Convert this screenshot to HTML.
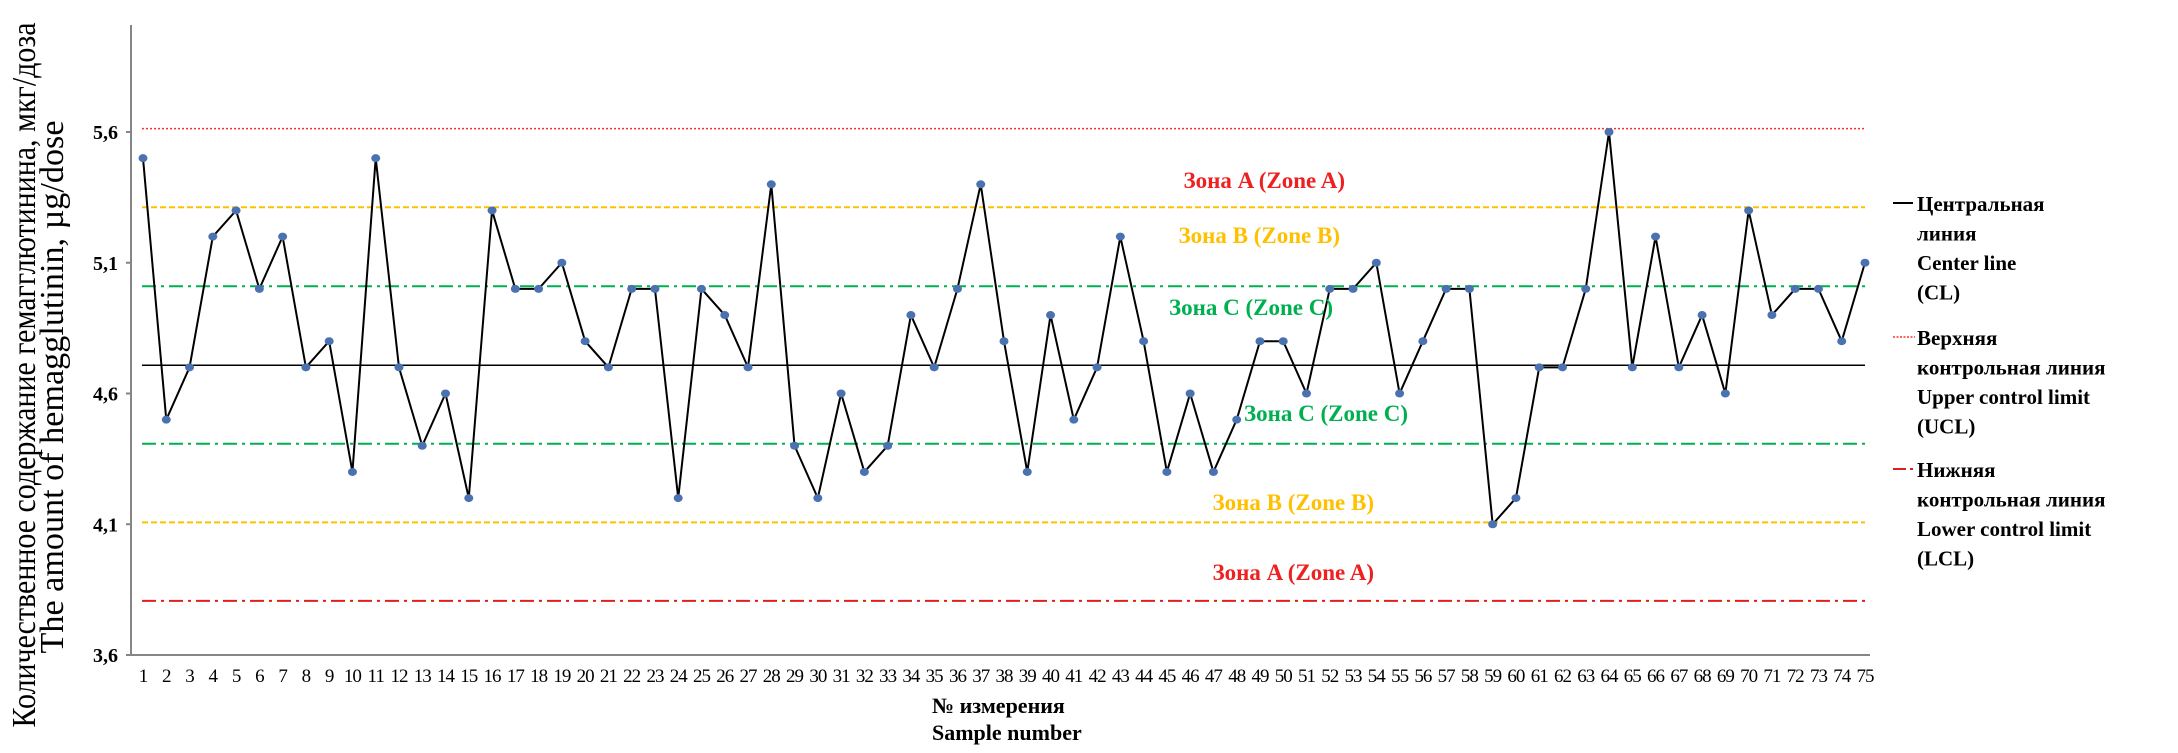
<!DOCTYPE html>
<html><head><meta charset="utf-8"><style>
html,body{margin:0;padding:0;background:#fff;}
svg{display:block;font-family:"Liberation Serif","DejaVu Serif",serif;}
</style></head><body>
<svg width="2178" height="753" viewBox="0 0 2178 753" xmlns="http://www.w3.org/2000/svg">
<g id="g"></g>
<script>
const NS="http://www.w3.org/2000/svg";const g=document.getElementById('g');
function el(t,a,txt){const e=document.createElementNS(NS,t);for(const k in a)e.setAttribute(k,a[k]);if(txt!=null)e.textContent=txt;g.appendChild(e);return e;}
const Y=v=>655-(v-3.6)*261.5, X=i=>143+(i-1)*23.27;
el('line',{x1:131,y1:25,x2:131,y2:656,stroke:'#868686','stroke-width':2});
el('line',{x1:131,y1:655,x2:1870,y2:655,stroke:'#868686','stroke-width':2});
[3.6,4.1,4.6,5.1,5.6].forEach(v=>{el('line',{x1:126,y1:Y(v),x2:131,y2:Y(v),stroke:'#868686','stroke-width':2});
el('text',{x:118,y:Y(v)+7,'text-anchor':'end','font-size':20,'font-weight':'bold'},v.toFixed(1).replace('.',','));});
const L=(v,c,d,w)=>el('line',{x1:142,y1:Y(v),x2:1865,y2:Y(v),stroke:c,'stroke-width':w||2,'stroke-dasharray':d});
L(5.613,'#ff3030','2 2',1.5);
L(5.312,'#ffc000','6 3');
L(5.010,'#00b050','14 5 3 5');
L(4.708,'#000','',1.5);
L(4.408,'#00b050','14 5 3 5');
L(4.107,'#ffc000','6 3');
L(3.807,'#e02020','14 5 3 5');
const data=[5.5,4.5,4.7,5.2,5.3,5.0,5.2,4.7,4.8,4.3,5.5,4.7,4.4,4.6,4.2,5.3,5.0,5.0,5.1,4.8,4.7,5.0,5.0,4.2,5.0,4.9,4.7,5.4,4.4,4.2,4.6,4.3,4.4,4.9,4.7,5.0,5.4,4.8,4.3,4.9,4.5,4.7,5.2,4.8,4.3,4.6,4.3,4.5,4.8,4.8,4.6,5.0,5.0,5.1,4.6,4.8,5.0,5.0,4.1,4.2,4.7,4.7,5.0,5.6,4.7,5.2,4.7,4.9,4.6,5.3,4.9,5.0,5.0,4.8,5.1];
el('polyline',{points:data.map((v,i)=>X(i+1)+','+Y(v)).join(' '),fill:'none',stroke:'#000','stroke-width':2});
data.forEach((v,i)=>el('ellipse',{cx:X(i+1),cy:Y(v),rx:4.5,ry:4,fill:'#4a72b0'}));
data.forEach((v,i)=>el('text',{x:X(i+1),y:682,'text-anchor':'middle','font-size':19,'letter-spacing':'-1'},String(i+1)));
const Z=(t,x,y,c)=>el('text',{x:x,y:y,'text-anchor':'end','font-size':23,'font-weight':'bold',fill:c},t);
Z('Зона A (Zone A)',1345,188,'#ee2020');
Z('Зона B (Zone B)',1340,243,'#ffc000');
Z('Зона C (Zone C)',1333,315,'#00b050');
Z('Зона C (Zone C)',1408,421,'#00b050');
Z('Зона B (Zone B)',1374,510,'#ffc000');
Z('Зона A (Zone A)',1374,580,'#ee2020');
el('text',{x:932,y:713,'font-size':22,'font-weight':'bold'},'№ измерения');
el('text',{x:932,y:740,'font-size':22,'font-weight':'bold'},'Sample number');
el('text',{transform:'translate(35,375) rotate(-90)','text-anchor':'middle','font-size':34,textLength:705,lengthAdjust:'spacingAndGlyphs'},'Количественное содержание гемагглютинина, мкг/доза');
el('text',{transform:'translate(63,387) rotate(-90)','text-anchor':'middle','font-size':34,textLength:533,lengthAdjust:'spacingAndGlyphs'},'The amount of hemagglutinin, µg/dose');
el('line',{x1:1893,y1:203,x2:1913,y2:203,stroke:'#000','stroke-width':2});
el('line',{x1:1893,y1:337,x2:1915,y2:337,stroke:'#ff3030','stroke-width':1.5,'stroke-dasharray':'2 1.5'});
el('line',{x1:1893,y1:469,x2:1906,y2:469,stroke:'#e02020','stroke-width':2});
el('line',{x1:1910,y1:469,x2:1913,y2:469,stroke:'#e02020','stroke-width':2});
const leg=[[211,['Центральная','линия','Center line','(CL)']],[345,['Верхняя','контрольная линия','Upper control limit','(UCL)']],[477,['Нижняя','контрольная линия','Lower control limit','(LCL)']]];
leg.forEach(([y0,ls])=>ls.forEach((t,j)=>el('text',{x:1917,y:y0+j*29.5,'font-size':21,'font-weight':'bold'},t)));
</script>
</svg>
</body></html>
